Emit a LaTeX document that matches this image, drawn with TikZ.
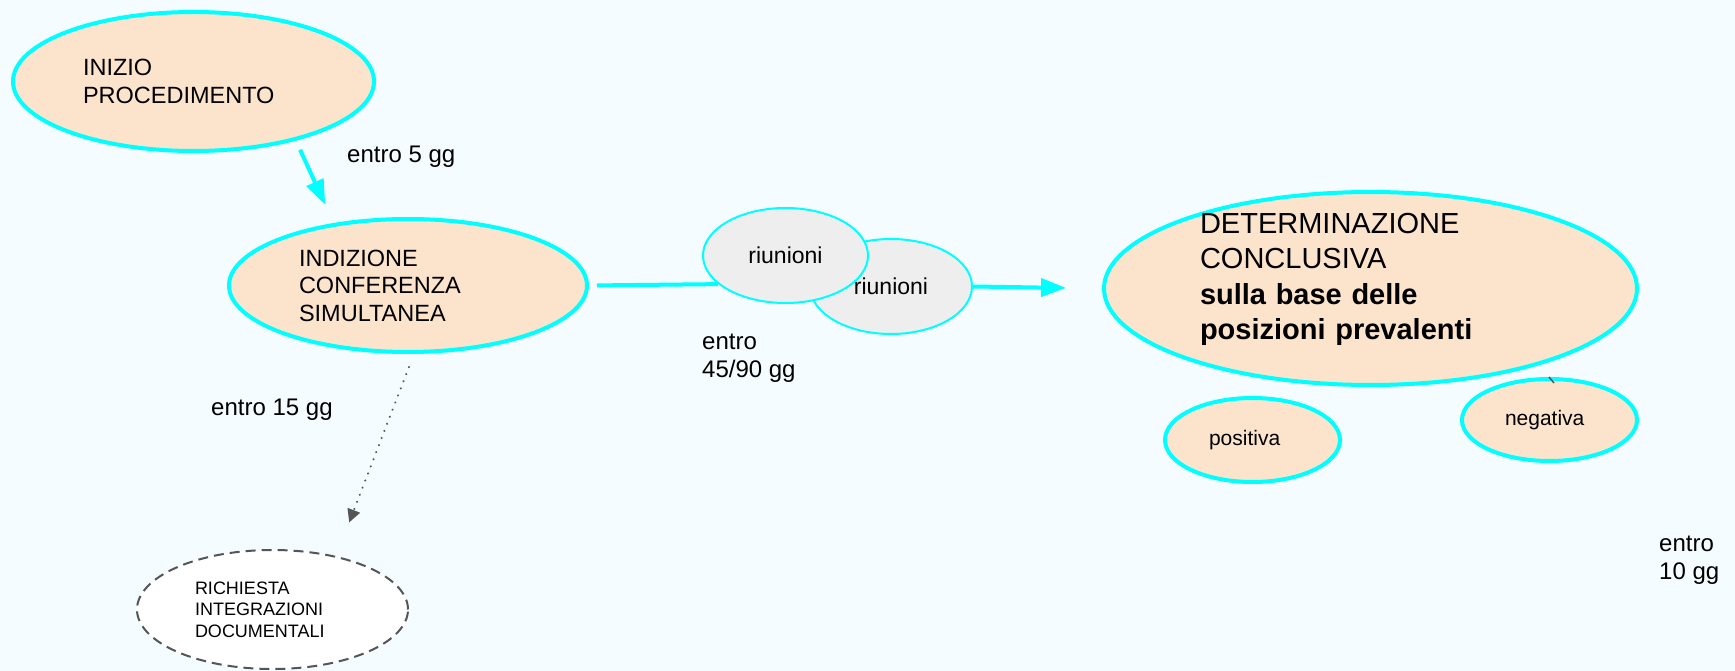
\documentclass[tikz,border=0pt]{standalone}
\usepackage{fontspec}
\setmainfont{Liberation Sans}
\usepackage{tikz}
\usetikzlibrary{shapes,arrows.meta,positioning}

\definecolor{bgblue}{RGB}{245,252,255}
\definecolor{peach}{RGB}{252,228,204}
\definecolor{cyanline}{RGB}{0,255,255}
\definecolor{meetgray}{RGB}{238,238,238}
\definecolor{optgray}{RGB}{85,85,85}

\begin{document}
\begin{tikzpicture}[x=1pt,y=-1pt,
    stage/.style={ellipse, draw=cyanline, line width=4pt, fill=peach, inner sep=0pt, align=left,
        font=\fontsize{23.5}{27.5}\selectfont},
    meeting/.style={ellipse, draw=cyanline, line width=2pt, fill=meetgray, inner sep=0pt,
        minimum width=165pt, minimum height=95pt, font=\fontsize{23}{27}\selectfont},
    optional/.style={ellipse, draw=optgray, line width=2pt, dash pattern=on 10pt off 6pt, fill=white,
        inner sep=0pt, align=left, font=\fontsize{18}{21.7}\selectfont},
    flow/.style={draw=cyanline, line width=4pt, -{Triangle[length=25pt,width=18pt]}},
    optarrow/.style={draw=optgray, line width=2.2pt, line cap=round, dash pattern=on 0.1pt off 7.5pt,
        -{Triangle[length=13pt,width=13pt,fill=optgray]}},
    timing/.style={anchor=west, align=left, inner sep=0pt, font=\fontsize{24}{28.5}\selectfont}]

    % background and page size
    \fill[bgblue] (0,0) rectangle (1735,671);
    \useasboundingbox (0,0) rectangle (1735,671);

    % main stages
    \node[stage, minimum width=361pt, minimum height=139pt, text width=221pt] (ini) at (193.5,81.5)
        {INIZIO\\PROCEDIMENTO};
    \node[stage, minimum width=358pt, minimum height=133pt, text width=218pt] (ind) at (408,285.5)
        {INDIZIONE\\CONFERENZA\\SIMULTANEA};
    \node[stage, minimum width=533pt, minimum height=193pt] (det) at (1370.5,288.5) {};
    \node[align=left, inner sep=0pt, text width=341pt, font=\fontsize{29}{35.5}\selectfont] (dettxt)
        at (1370.5,279.5)
        {DETERMINAZIONE\\CONCLUSIVA\\\textbf{sulla base delle}\\\textbf{posizioni prevalenti}};

    % outcomes
    \node[stage, minimum width=175pt, minimum height=84pt, text width=87pt,
        font=\fontsize{21}{25}\selectfont] (pos) at (1252.5,440) {positiva};
    \node[stage, minimum width=175pt, minimum height=82pt, text width=89pt,
        font=\fontsize{21}{25}\selectfont] (neg) at (1549.5,420) {negativa};

    % meetings
    \node[meeting, minimum width=162pt] (riu2) at (891,286.5) {riunioni};
    \node[meeting] (riu1) at (785.5,255.5) {riunioni};

    % optional request
    \node[optional, minimum width=271pt, minimum height=119pt, text width=155pt] (rich) at (272.5,609.5)
        {RICHIESTA\\INTEGRAZIONI\\DOCUMENTALI};

    % connectors
    \draw[flow, shorten <=10pt, shorten >=20pt] (ini.-30) -- (ind.140);
    \draw[cyanline, line width=4pt, shorten <=8pt] (ind.east) -- (riu1.203);
    \draw[flow, shorten >=36pt] (riu2.east) -- (det.west);
    \draw[optarrow, shorten <=14pt, shorten >=36pt] (ind.-85) -- (rich.40);
    \draw[optgray, line width=1.5pt] (1549,377) -- (1554,383);

    % time limits
    \node[timing] (t5) at (347,157) {entro 5 gg};
    \node[timing] (t15) at (211,410) {entro 15 gg};
    \node[timing] (t4590) at (702,358) {entro\\45/90 gg};
    \node[timing] (t10) at (1659,560) {entro\\10 gg};

\end{tikzpicture}
\end{document}
